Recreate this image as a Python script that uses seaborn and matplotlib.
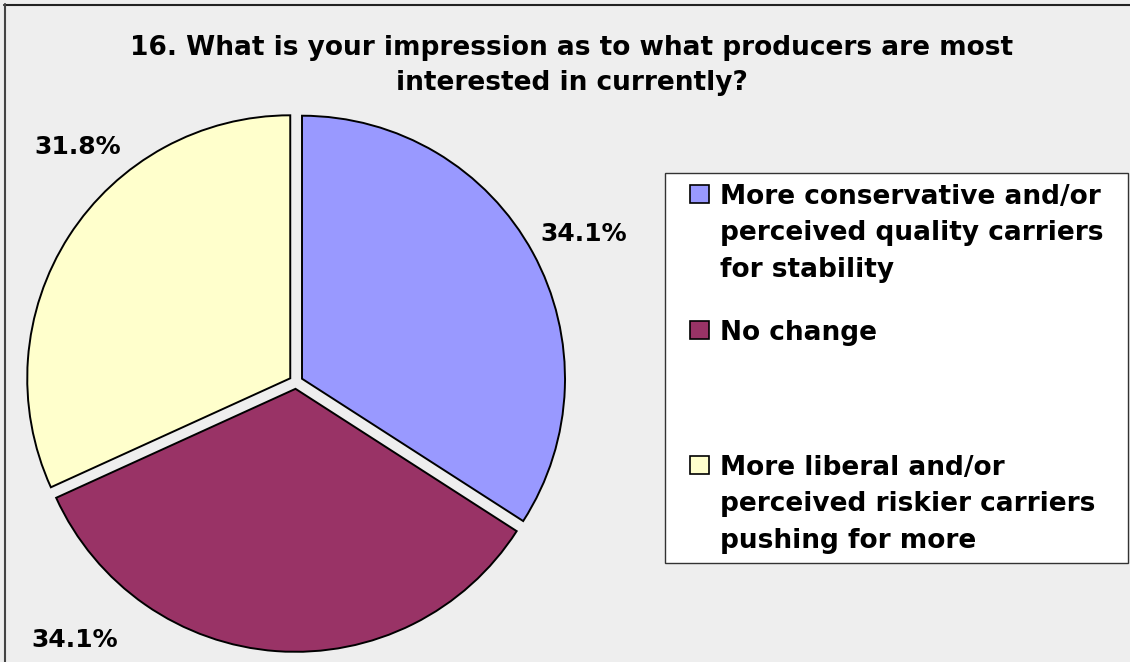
import matplotlib
matplotlib.use("Agg")
import matplotlib.pyplot as plt
from matplotlib.patches import Rectangle
from matplotlib.lines import Line2D
import seaborn as sns

# Survey question 16: share of responses per answer
categories = [
    "More conservative and/or\nperceived quality carriers\nfor stability",
    "No change",
    "More liberal and/or\nperceived riskier carriers\npushing for more",
]
shares = [34.1, 34.1, 31.8]
pct_labels = ["34.1%", "34.1%", "31.8%"]
title_lines = [
    "16. What is your impression as to what producers are most",
    "interested in currently?",
]
colors = ["#9999FF", "#993366", "#FFFFCC"]

sns.set_theme(style="white")
plt.rcParams["font.family"] = ["DejaVu Sans"]

W, H = 1130, 662
fig = plt.figure(figsize=(W / 100, H / 100), dpi=100)
fig.patch.set_facecolor("#EEEEEE")


def fx(x):
    return x / W


def fy(y):
    return 1 - y / H


# chart-area frame (top and left edges)
fig.add_artist(Line2D([fx(4), fx(W)], [fy(4.5), fy(4.5)], color="#222222", lw=1.5))
fig.add_artist(Line2D([fx(4.5), fx(4.5)], [fy(4), fy(H)], color="#444444", lw=1.5))

# pie axes: centre at (296, 382) px, radius 263 px
cx, cy, R = 296, 382, 263
half = 1.3
side = 2 * half * R
ax = fig.add_axes([fx(cx - side / 2), (H - cy - side / 2) / H, side / W, side / H])
ax.set_facecolor("none")

wedges, _, autotexts = ax.pie(
    shares,
    colors=colors,
    startangle=90,
    counterclock=False,
    explode=[0.026] * len(shares),
    autopct="%1.1f%%",
    wedgeprops=dict(edgecolor="black", linewidth=1.4),
    textprops=dict(fontsize=18, fontweight="bold", color="black"),
)
ax.set_xlim(-half, half)
ax.set_ylim(-half, half)
ax.set_aspect("equal")
ax.set_axis_off()

# outside label placement (data units relative to the pie centre)
label_pos = [(1.095, 0.563), (-0.840, -0.981), (-0.829, 0.894)]
for t, txt, pos in zip(autotexts, pct_labels, label_pos):
    t.set_text(txt)
    t.set_position(pos)
    t.set_ha("center")
    t.set_va("center")

# title
title_baselines = [55, 90]
for line, yb in zip(title_lines, title_baselines):
    fig.text(fx(572), fy(yb), line, ha="center", va="baseline",
             fontsize=19, fontweight="bold", color="black")

# legend box
fig.add_artist(Rectangle((fx(665), fy(563)), fx(1128) - fx(665), fy(173) - fy(563),
                         transform=fig.transFigure, facecolor="white",
                         edgecolor="#333333", lw=1.0))
entry_baselines = [204, 340, 475]
line_step = 36.3
for label, col, yb in zip(categories, colors, entry_baselines):
    fig.add_artist(Rectangle((fx(690), fy(yb - 1)), fx(709) - fx(690), fy(yb - 19) - fy(yb - 1),
                             transform=fig.transFigure, facecolor=col,
                             edgecolor="black", lw=1.2))
    for i, line in enumerate(label.split("\n")):
        fig.text(fx(720), fy(yb + i * line_step), line, ha="left", va="baseline",
                 fontsize=19, fontweight="bold", color="black")

fig.savefig("out.png", dpi=100, facecolor=fig.get_facecolor())
